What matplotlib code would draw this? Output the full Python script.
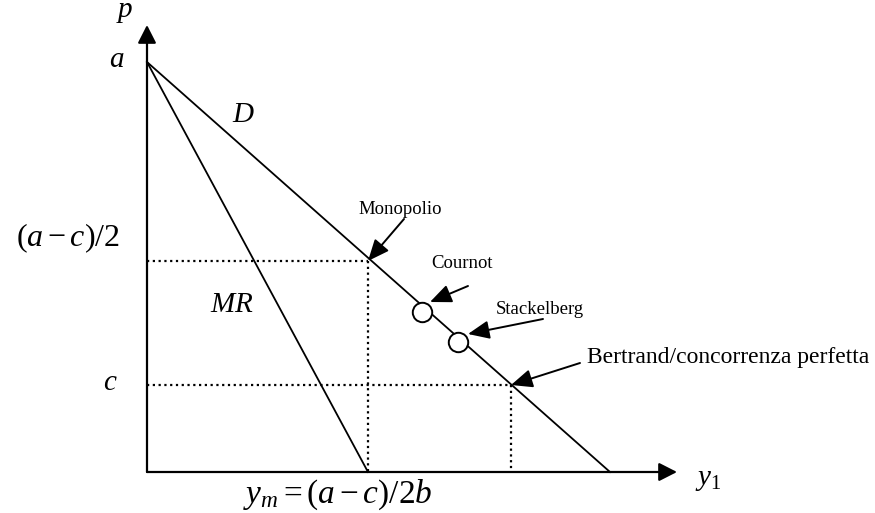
import matplotlib.pyplot as plt

plt.rcParams['font.family'] = ['Liberation Serif', 'DejaVu Serif']
plt.rcParams['mathtext.fontset'] = 'custom'
plt.rcParams['mathtext.rm'] = 'Liberation Serif'
plt.rcParams['mathtext.it'] = 'Liberation Serif:italic'

# schematic market: linear demand p = a - b*y, constant marginal cost c
a = 410
y_max = 463          # demand meets the quantity axis
y_m = 221            # MR meets the quantity axis
p_m = 211            # monopoly price
c = 87
y_bertrand = 364
cournot = (275, 160)
stackelberg = (311, 130)

# name, text position, font size, arrow tail, arrow tip
callouts = [
    ('Monopolio', (253, 262), 13.5, (257, 253), (y_m, p_m)),
    ('Cournot', (315, 209), 13.5, (321, 186), (283, 170)),
    ('Stackelberg', (393, 162), 13.5, (396, 153), (321, 138)),
    ('Bertrand/concorrenza perfetta', (581, 115), 17, (433, 109), (y_bertrand, c)),
]

fig = plt.figure(figsize=(8.75, 5.13), dpi=100)
ax = fig.add_axes([0, 0, 1, 1])
ax.set_xlim(-147, 728)
ax.set_ylim(-41, 472)
ax.axis('off')

# axes with arrow heads
axis_arrow = dict(arrowstyle='-|>,head_length=0.55,head_width=0.28', mutation_scale=20,
                  color='black', lw=1.6, shrinkA=0, shrinkB=0)
ax.annotate('', xy=(0, 447), xytext=(0, 0), arrowprops=axis_arrow)
ax.annotate('', xy=(530, 0), xytext=(0, 0), arrowprops=axis_arrow)

# demand and marginal revenue
ax.plot([0, y_max], [a, 0], color='black', lw=1.3)
ax.plot([0, y_m], [a, 0], color='black', lw=1.3)

# dotted guides
dots = dict(color='black', lw=1.6, linestyle=(0, (1, 1.6)))
ax.plot([0, y_m], [p_m, p_m], **dots)
ax.plot([y_m, y_m], [p_m, 0], **dots)
ax.plot([0, y_bertrand], [c, c], **dots)
ax.plot([y_bertrand, y_bertrand], [c, 0], **dots)

# Cournot and Stackelberg equilibria
for q, p in (cournot, stackelberg):
    ax.plot(q, p, marker='o', ms=14, mfc='white', mec='black', mew=1.4, zorder=5)

# labelled arrows
arrow = dict(arrowstyle='-|>,head_length=0.65,head_width=0.28', mutation_scale=20,
             color='black', lw=1.4, shrinkA=0, shrinkB=0)
for name, pos, size, tail, tip in callouts:
    ax.text(pos[0], pos[1], name, fontsize=size, ha='center', va='center')
    ax.annotate('', xy=tip, xytext=tail, arrowprops=arrow)

# axis and curve labels
big = 21
ax.text(-22, 460, r'$p$', fontsize=big, ha='center', va='center')
ax.text(-30, 412, r'$a$', fontsize=big, ha='center', va='center')
ax.text(96, 357, r'$D$', fontsize=big, ha='center', va='center')
ax.text(85, 167, r'$MR$', fontsize=big, ha='center', va='center')
ax.text(-79, 234, r'$(a-c)/2$', fontsize=23, ha='center', va='center')
ax.text(-37, 89, r'$c$', fontsize=big, ha='center', va='center')
ax.text(191, -23, r'$y_m = (a-c)/2b$', fontsize=24, ha='center', va='center')
ax.text(561, -8, r'$y_1$', fontsize=big, ha='center', va='center')

fig.savefig('out.png', dpi=100, facecolor='white')
